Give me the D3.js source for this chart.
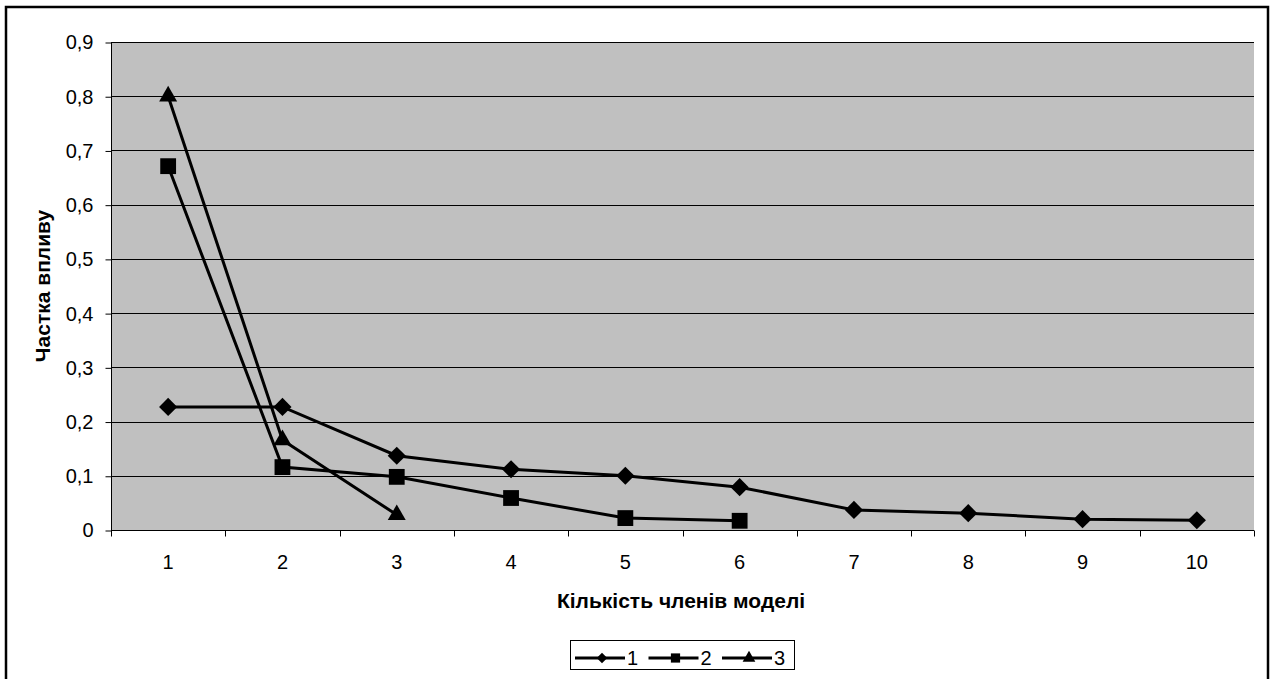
<!DOCTYPE html>
<html>
<head>
<meta charset="utf-8">
<script src="https://cdn.jsdelivr.net/npm/d3@7"></script>
<style>
  body { margin: 0; background: #fff; }
  svg { font-family: "Liberation Sans", Arial, sans-serif; }
</style>
</head>
<body>
<svg id="chart" width="1271" height="679"></svg>
<script>
var categories = ["1", "2", "3", "4", "5", "6", "7", "8", "9", "10"];
var series1 = [0.227, 0.227, 0.137, 0.112, 0.100, 0.079, 0.037, 0.031, 0.020, 0.018];
var series2 = [0.671, 0.116, 0.098, 0.059, 0.022, 0.017];
var series3 = [0.800, 0.166, 0.028];
var seriesNames = ["1", "2", "3"];
var yTicks = [0, 0.1, 0.2, 0.3, 0.4, 0.5, 0.6, 0.7, 0.8, 0.9];

var svg = d3.select("#chart");
var pLeft = 111, pRight = 1254, pTop = 42, pBottom = 530;

// outer frame
svg.append("rect").attr("x", 6).attr("y", 7).attr("width", 1262).attr("height", 680)
  .attr("fill", "none").attr("stroke", "#000").attr("stroke-width", 2.5);

var x = d3.scaleBand().domain(categories).range([pLeft, pRight]);
var y = d3.scaleLinear().domain([0, 0.9]).range([pBottom, pTop]);

svg.append("rect").attr("x", pLeft).attr("y", pTop)
  .attr("width", pRight - pLeft).attr("height", pBottom - pTop).attr("fill", "#c0c0c0");

// gridlines
svg.append("g").selectAll("line").data(yTicks.slice(1)).join("line")
  .attr("x1", pLeft).attr("x2", pRight)
  .attr("y1", d => Math.round(y(d)) + 0.5).attr("y2", d => Math.round(y(d)) + 0.5)
  .attr("stroke", "#000").attr("stroke-width", 1);

// y axis
var yAxis = svg.append("g").attr("transform", "translate(" + (pLeft + 0.5) + ",0.5)")
  .call(d3.axisLeft(y).tickValues(yTicks).tickSize(6).tickPadding(12)
    .tickFormat(d => d === 0 ? "0" : d3.format(".1f")(d).replace(".", ",")));
yAxis.attr("font-size", 20).attr("font-family", "Liberation Sans, Arial");
yAxis.select(".domain").attr("d", "M0," + pTop + "V" + pBottom);
yAxis.selectAll("text").attr("fill", "#000");

// x axis with ticks between categories
var xg = svg.append("g").attr("transform", "translate(0," + (pBottom + 0.5) + ")");
xg.append("line").attr("x1", pLeft).attr("x2", pRight).attr("stroke", "#000");
var bounds = categories.map(c => x(c)).concat([pRight]);
xg.selectAll("line.tk").data(bounds).join("line").attr("class", "tk")
  .attr("x1", d => Math.round(d) + 0.5).attr("x2", d => Math.round(d) + 0.5)
  .attr("y1", 0).attr("y2", 6).attr("stroke", "#000");
xg.selectAll("text").data(categories).join("text")
  .attr("x", d => x(d) + x.bandwidth() / 2).attr("y", 38.5)
  .attr("text-anchor", "middle").attr("font-size", 20).text(d => d);

// titles
svg.append("text").attr("x", 681).attr("y", 608)
  .attr("text-anchor", "middle").attr("font-size", 21).attr("font-weight", "bold")
  .text("Кількість членів моделі");
svg.append("text").attr("transform", "translate(50,286) rotate(-90)")
  .attr("text-anchor", "middle").attr("font-size", 21).attr("font-weight", "bold")
  .text("Частка впливу");

var cx = (d, i) => x(categories[i]) + x.bandwidth() / 2;
var line = d3.line().x(cx).y(d => y(d));
// diamond = square turned 45 degrees
var symbols = [d3.symbolSquare, d3.symbolSquare, d3.symbolTriangle];
var rotate = [45, 0, 0];
var sizes = [165, 250, 140];
var legendSizes = [55, 85, 70];
var allSeries = [series1, series2, series3];

allSeries.forEach(function (s) {
  svg.append("path").datum(s).attr("d", line)
    .attr("fill", "none").attr("stroke", "#000").attr("stroke-width", 3);
});
allSeries.forEach(function (s, k) {
  svg.append("g").selectAll("path").data(s).join("path")
    .attr("transform", (d, i) => "translate(" + cx(d, i) + "," + y(d) + ") rotate(" + rotate[k] + ")")
    .attr("d", d3.symbol().type(symbols[k]).size(sizes[k])).attr("fill", "#000");
});

// legend
var lg = svg.append("g");
lg.append("rect").attr("x", 570.5).attr("y", 640.5).attr("width", 224).attr("height", 29)
  .attr("fill", "#fff").attr("stroke", "#000");
seriesNames.forEach(function (n, k) {
  var x0 = 575 + k * 73.5;
  lg.append("line").attr("x1", x0).attr("x2", x0 + 50).attr("y1", 658).attr("y2", 658)
    .attr("stroke", "#000").attr("stroke-width", 3);
  lg.append("path").attr("transform", "translate(" + (x0 + 27) + ",658) rotate(" + rotate[k] + ")")
    .attr("d", d3.symbol().type(symbols[k]).size(legendSizes[k])).attr("fill", "#000");
  lg.append("text").attr("x", x0 + 52).attr("y", 665).attr("font-size", 20).text(n);
});
</script>
</body>
</html>
